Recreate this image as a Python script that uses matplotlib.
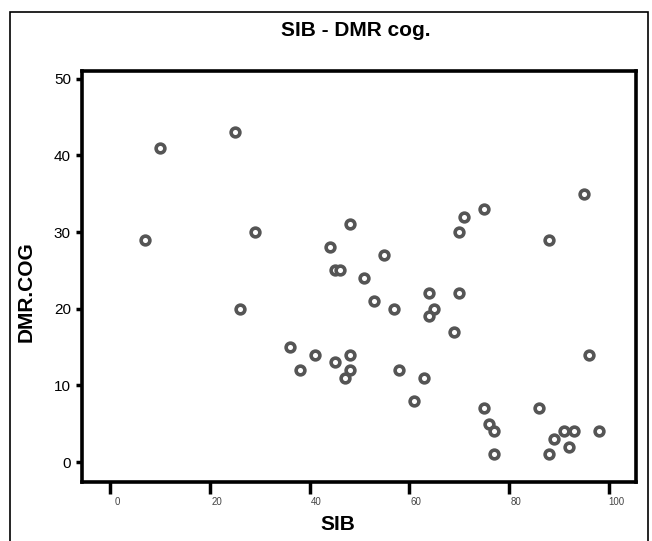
import matplotlib.pyplot as plt
import matplotlib.transforms as mtransforms
from matplotlib.patches import Rectangle

plt.rcParams['font.family'] = ['Liberation Sans', 'DejaVu Sans']

# data
sib = [7, 10, 25, 26, 29, 36, 38, 41, 44, 45, 46, 45, 48, 48, 48, 47,
       51, 53, 55, 57, 58, 61, 63, 64, 65, 64, 69, 70, 71, 70, 75, 75,
       76, 77, 77, 86, 88, 89, 88, 91, 93, 92, 95, 96, 98]
dmr_cog = [29, 41, 43, 20, 30, 15, 12, 14, 28, 25, 25, 13, 31, 14, 12, 11,
           24, 21, 27, 20, 12, 8, 11, 22, 20, 19, 17, 30, 32, 22, 33, 7,
           5, 4, 1, 7, 29, 3, 1, 4, 4, 2, 35, 14, 4]
x_ticks = [0, 20, 40, 60, 80, 100]
y_ticks = [0, 10, 20, 30, 40, 50]

W, H = 652, 541
fig = plt.figure(figsize=(W / 100, H / 100), dpi=100)

# thin frame round the whole picture (open at the bottom edge)
fig.add_artist(Rectangle((10 / W, -0.01), 638 / W, 1.01 - 12 / H,
                         transform=fig.transFigure, fill=False,
                         edgecolor='black', linewidth=1.2))

ax = fig.add_axes([82 / W, 1 - 482 / H, 554 / W, 411 / H])

ax.plot(sib, dmr_cog, linestyle='none', marker='o', markersize=6.3,
        markerfacecolor='white', markeredgecolor='#555555', markeredgewidth=2.6)

ax.set_xlim(-5.6, 105.4)
ax.set_ylim(-2.6, 51.0)
ax.set_xticks(x_ticks)
ax.set_yticks(y_ticks)

for s in ax.spines.values():
    s.set_linewidth(2.6)

ax.tick_params(axis='y', direction='out', length=4, width=2.5, labelsize=11, pad=4)
ax.tick_params(axis='x', direction='out', length=8.5, width=2.5, labelsize=7,
               pad=2, labelcolor='#444444')
# x labels sit a little right of their ticks
offset = mtransforms.ScaledTranslation(7 / 100, 0, fig.dpi_scale_trans)
for lbl in ax.get_xticklabels():
    lbl.set_transform(lbl.get_transform() + offset)
    lbl.set_family(['Liberation Sans Narrow', 'Liberation Sans'])

fig.text(356 / W, 1 - 31 / H, 'SIB - DMR cog.', ha='center', va='center',
         fontsize=15, fontweight='bold')
fig.text(338 / W, 1 - 525 / H, 'SIB', ha='center', va='center',
         fontsize=15, fontweight='bold')
fig.text(26 / W, 1 - 292 / H, 'DMR.COG', ha='center', va='center',
         rotation=90, fontsize=15, fontweight='bold')

plt.savefig('out.png', dpi=100)
